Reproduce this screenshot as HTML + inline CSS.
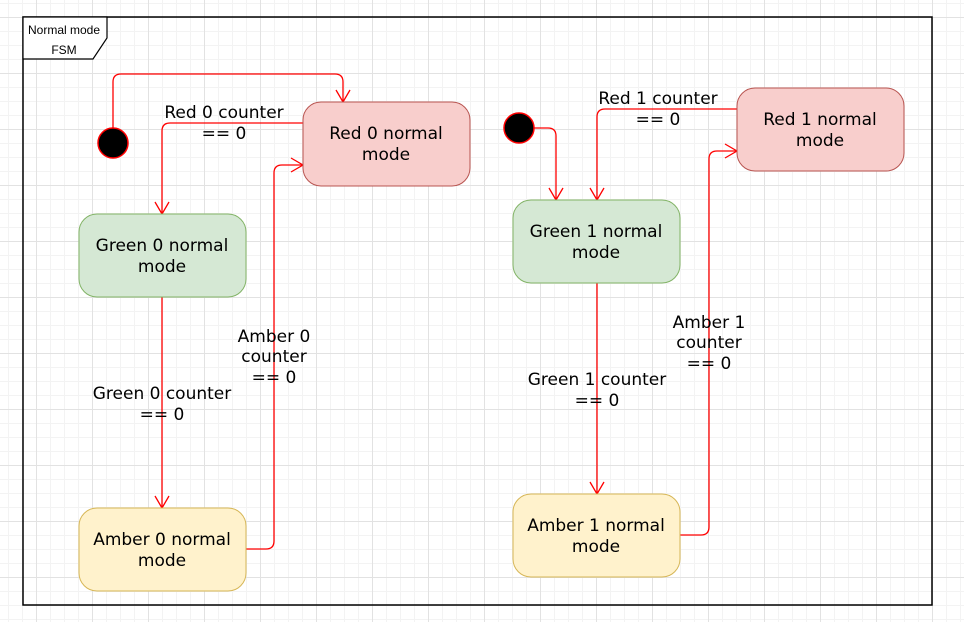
<!DOCTYPE html>
<html><head><meta charset="utf-8"><style>
body{margin:0;width:964px;height:622px;overflow:hidden;background:#fff;
background-image:linear-gradient(#e2e2e2 1px,transparent 1px),linear-gradient(90deg,#e2e2e2 1px,transparent 1px),linear-gradient(#f3f3f3 1px,transparent 1px),linear-gradient(90deg,#f3f3f3 1px,transparent 1px);
background-size:56px 56px,56px 56px,14px 14px,14px 14px;background-position:36px 17px,36px 17px,8px 3px,8px 3px;}
svg{position:absolute;left:0;top:0}
text{font-family:"DejaVu Sans",sans-serif;font-size:17px;text-anchor:middle;fill:#000}
</style></head><body>
<svg width="964" height="622" viewBox="0 0 964 622">
<rect x="23" y="17" width="909" height="588" fill="none" stroke="#000" stroke-width="1.5"/>
<path d="M23 17H107V38L93 59H23Z" fill="#fff" stroke="#000" stroke-width="1.2"/>
<text x="64" y="34" style="font-family:'Liberation Sans',sans-serif;font-size:12px">Normal mode</text>
<text x="64" y="54" style="font-family:'Liberation Sans',sans-serif;font-size:12px">FSM</text>

<g fill="none" stroke="#f00" stroke-width="1.3">
<path d="M113 128V82Q113 74 121 74H335Q343 74 343 82V102"/>
<path d="M303 123H170Q162 123 162 131V214"/>
<path d="M162 297V508"/>
<path d="M246 549H266Q274 549 274 541V173Q274 165 282 165H303"/>
<path d="M534 128H548Q556 128 556 136V200"/>
<path d="M737 109H605Q597 109 597 117V200"/>
<path d="M597 283V494"/>
<path d="M680 535H701Q709 535 709 527V159Q709 151 717 151H737"/>
<path d="M336 90L343 102L350 90M155 202L162 214L169 202M155 496L162 508L169 496M291 158L303 165L291 172M549 188L556 200L563 188M590 188L597 200L604 188M590 482L597 494L604 482M725 144L737 151L725 158"/>
</g>

<circle cx="113" cy="143" r="15" fill="#000" stroke="#f00" stroke-width="1.5"/>
<circle cx="519" cy="128" r="15" fill="#000" stroke="#f00" stroke-width="1.5"/>

<rect x="303" y="102" width="167" height="84" rx="18" fill="#f8cecc" stroke="#b85450"/>
<rect x="79" y="214" width="167" height="83" rx="18" fill="#d5e8d4" stroke="#82b366"/>
<rect x="79" y="508" width="167" height="83" rx="18" fill="#fff2cc" stroke="#d6b656"/>
<rect x="737" y="88" width="167" height="83" rx="18" fill="#f8cecc" stroke="#b85450"/>
<rect x="513" y="200" width="167" height="83" rx="18" fill="#d5e8d4" stroke="#82b366"/>
<rect x="513" y="494" width="167" height="83" rx="18" fill="#fff2cc" stroke="#d6b656"/>

<text x="386" y="139">Red 0 normal</text><text x="386" y="160">mode</text>
<text x="162" y="251">Green 0 normal</text><text x="162" y="272">mode</text>
<text x="162" y="545">Amber 0 normal</text><text x="162" y="566">mode</text>
<text x="820" y="125">Red 1 normal</text><text x="820" y="146">mode</text>
<text x="596" y="237">Green 1 normal</text><text x="596" y="258">mode</text>
<text x="596" y="531">Amber 1 normal</text><text x="596" y="552">mode</text>

<text x="224" y="118">Red 0 counter</text><text x="224" y="139">== 0</text>
<text x="162" y="399">Green 0 counter</text><text x="162" y="420">== 0</text>
<text x="274" y="342">Amber 0</text><text x="274" y="362">counter</text><text x="274" y="383">== 0</text>
<text x="658" y="104">Red 1 counter</text><text x="658" y="125">== 0</text>
<text x="597" y="385">Green 1 counter</text><text x="597" y="406">== 0</text>
<text x="709" y="328">Amber 1</text><text x="709" y="348">counter</text><text x="709" y="369">== 0</text>
</svg>
</body></html>
